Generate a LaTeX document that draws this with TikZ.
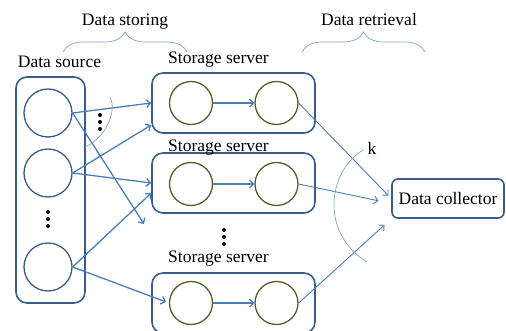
\documentclass[tikz,border=0pt]{standalone}
\usepackage{fontspec}
\setmainfont{Liberation Serif}
\usepackage{tikz}
\usetikzlibrary{arrows.meta,decorations.pathreplacing}
\definecolor{boxblue}{HTML}{385D8A}
\definecolor{arrowblue}{HTML}{4A7EBB}
\definecolor{lightblue}{HTML}{7BA3D6}
\definecolor{olive}{HTML}{4F6228}

\begin{document}
\begin{tikzpicture}[x=1pt,y=-1pt,font=\fontsize{17.5}{20}\selectfont]
\tikzstyle{every node}+=[inner sep=0pt]
\tikzstyle{box}=[draw=boxblue,line width=1.6pt,rounded corners=11pt]
\tikzstyle{src}=[circle,draw=boxblue,line width=1.3pt,minimum size=48pt]
\tikzstyle{disk}=[circle,draw=olive,line width=1.3pt,minimum size=43pt]
\tikzstyle{link}=[draw=arrowblue,line width=1.3pt,-{Straight Barb[length=4pt,width=8pt]}]
\tikzstyle{thin link}=[draw=arrowblue,line width=0.9pt,-{Straight Barb[length=4pt,width=8pt]}]
\tikzstyle{group}=[draw=lightblue,line width=0.7pt]
\useasboundingbox (0,0) rectangle (506,331);
\clip (0,0) rectangle (506,331);
\node[anchor=base] (storing) at (125,26) {Data storing};
\node[anchor=base] (retrieval) at (369,26) {Data retrieval};
\draw[group,decorate,decoration={brace,amplitude=20pt}] (63,52) -- (187,52);
\draw[group,decorate,decoration={brace,amplitude=20pt}] (302,52) -- (425,52);
\node[box,minimum width=69pt,minimum height=226pt] (source) at (50.5,190) {};
\node[anchor=base] (sourcelabel) at (59.5,68) {Data source};
\node[src] (s1) at (48,113) {};
\node[src] (s2) at (48,173) {};
\node[src] (s3) at (48,267) {};
\fill (48,212) circle[radius=2pt] (48,219) circle[radius=2pt] (48,226) circle[radius=2pt];
\node[box,minimum width=163pt,minimum height=60pt] (b1) at (233.5,103) {};
\node[anchor=base] (b1label) at (218.5,64) {Storage server};
\node[disk] (b1c1) at (191,103) {};
\node[disk] (b1c2) at (276.5,103) {};
\node[box,minimum width=163pt,minimum height=60pt] (b2) at (233.5,183) {};
\node[anchor=base] (b2label) at (218.5,152) {Storage server};
\node[disk] (b2c1) at (191,184) {};
\node[disk] (b2c2) at (276.5,184) {};
\node[box,minimum width=163pt,minimum height=60pt] (b3) at (233.5,303) {};
\node[anchor=base] (b3label) at (218.5,262) {Storage server};
\node[disk] (b3c1) at (191,303) {};
\node[disk] (b3c2) at (276.5,303) {};
\fill (224,230) circle[radius=2pt] (224,237) circle[radius=2pt] (224,244) circle[radius=2pt];
\node[box,rounded corners=6pt,minimum width=112pt,minimum height=39pt] (dc) at (448,198.5) {Data collector};
\coordinate (gap) at (144,224);
\draw[link] (s1.east) -- (b1.west);
\draw[link] (s1.east) -- (gap);
\draw[link] (s2.east) -- (b1.195);
\draw[link] (s2.east) -- (b2.west);
\draw[link] (s3.east) -- (b2.187);
\draw[link,shorten >=3pt] (s3.east) -- (b3c1.west);
\fill (100,115) circle[radius=2pt] (100,122) circle[radius=2pt] (100,129) circle[radius=2pt];
\draw[group] (110,97) .. controls (117,110) and (107,137) .. (85,147);
\draw[link] (b1c1) -- (b1c2);
\draw[link] (b2c1) -- (b2c2);
\draw[link] (b3c1) -- (b3c2);
\draw[thin link,shorten >=4pt] (b1c2.east) -- (dc.west);
\draw[thin link,shorten >=13pt] (b2c2.east) -- (dc.185);
\draw[thin link,shorten >=9pt] (b3c2.east) -- (dc.south west);
\draw[group] (363,150) .. controls (344,162) and (334,183) .. (334,205) .. controls (334,229) and (347,250) .. (367,262);
\node[anchor=base] (k) at (372,155) {k};
\end{tikzpicture}
\end{document}
